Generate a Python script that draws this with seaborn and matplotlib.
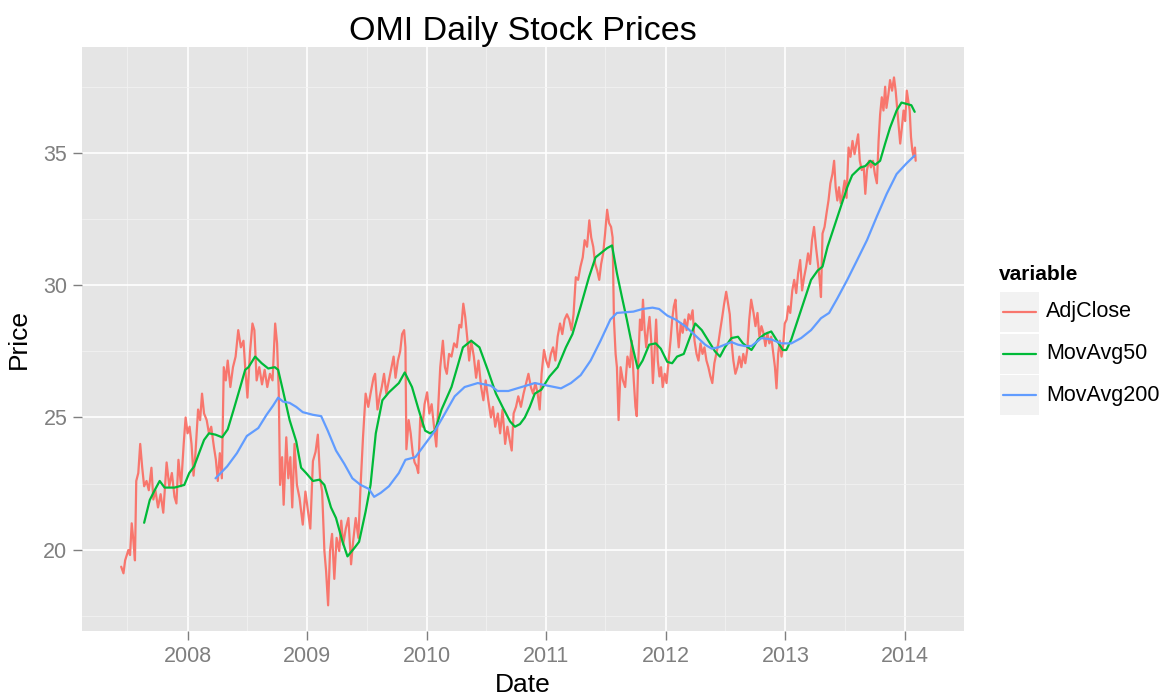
import pandas as pd
import matplotlib
matplotlib.use("Agg")
import matplotlib.pyplot as plt
import seaborn as sns
from matplotlib.patches import Rectangle
from matplotlib.lines import Line2D

# dates are decimal years, prices in $
adj_year = [
    2007.444, 2007.463, 2007.477, 2007.504, 2007.518, 2007.532, 2007.545, 2007.559, 2007.570, 2007.587,
    2007.603, 2007.620, 2007.636, 2007.656, 2007.675, 2007.697, 2007.713, 2007.730, 2007.752, 2007.774,
    2007.796, 2007.824, 2007.846, 2007.868, 2007.890, 2007.906, 2007.923, 2007.945, 2007.967, 2007.983,
    2008.000, 2008.017, 2008.033, 2008.050, 2008.066, 2008.088, 2008.105, 2008.121, 2008.138, 2008.160,
    2008.179, 2008.198, 2008.220, 2008.237, 2008.253, 2008.270, 2008.287, 2008.303, 2008.320, 2008.336,
    2008.358, 2008.380, 2008.402, 2008.424, 2008.446, 2008.468,
    2008.482, 2008.501, 2008.523, 2008.543, 2008.559, 2008.578, 2008.600, 2008.623, 2008.645, 2008.667,
    2008.689, 2008.711, 2008.733, 2008.749, 2008.763, 2008.774, 2008.791, 2008.804, 2008.826, 2008.843,
    2008.860, 2008.876, 2008.895, 2008.915, 2008.937, 2008.964, 2008.986, 2009.006, 2009.025, 2009.047,
    2009.069, 2009.088, 2009.107, 2009.124, 2009.143, 2009.157, 2009.174, 2009.190, 2009.207, 2009.226,
    2009.245, 2009.267, 2009.284, 2009.300, 2009.322, 2009.344, 2009.366, 2009.383, 2009.405, 2009.427,
    2009.446, 2009.466, 2009.488, 2009.510, 2009.529, 2009.554,
    2009.567, 2009.587, 2009.606, 2009.623, 2009.642, 2009.661, 2009.683, 2009.705, 2009.722, 2009.738,
    2009.758, 2009.777, 2009.793, 2009.810, 2009.821, 2009.829, 2009.848, 2009.865, 2009.882, 2009.898,
    2009.915, 2009.928, 2009.945, 2009.964, 2009.981, 2010.003, 2010.022, 2010.041, 2010.061, 2010.080,
    2010.096, 2010.113, 2010.135, 2010.152, 2010.168, 2010.187, 2010.207, 2010.229, 2010.251, 2010.273,
    2010.289, 2010.306, 2010.322, 2010.339, 2010.355, 2010.372, 2010.394, 2010.413, 2010.433, 2010.455,
    2010.474, 2010.493, 2010.515, 2010.537, 2010.554, 2010.573,
    2010.595, 2010.614, 2010.634, 2010.656, 2010.675, 2010.694, 2010.711, 2010.727, 2010.747, 2010.766,
    2010.788, 2010.810, 2010.832, 2010.851, 2010.871, 2010.890, 2010.909, 2010.928, 2010.945, 2010.961,
    2010.981, 2011.000, 2011.019, 2011.039, 2011.058, 2011.077, 2011.096, 2011.116, 2011.135, 2011.154,
    2011.174, 2011.193, 2011.212, 2011.229, 2011.248, 2011.267, 2011.287, 2011.306, 2011.322, 2011.342,
    2011.361, 2011.377, 2011.394, 2011.410, 2011.427, 2011.444, 2011.460, 2011.477, 2011.493, 2011.510,
    2011.526, 2011.543, 2011.556, 2011.567, 2011.581, 2011.592, 2011.606, 2011.623, 2011.642, 2011.661,
    2011.680, 2011.700, 2011.716,
    2011.733, 2011.747, 2011.758, 2011.771, 2011.785, 2011.799, 2011.810, 2011.824, 2011.837, 2011.851,
    2011.865, 2011.879, 2011.893, 2011.906, 2011.920, 2011.934, 2011.948, 2011.961, 2011.975, 2011.992,
    2012.008, 2012.025, 2012.041, 2012.055, 2012.069, 2012.083, 2012.096, 2012.110, 2012.127, 2012.143,
    2012.160, 2012.176, 2012.193, 2012.209, 2012.226, 2012.242, 2012.259, 2012.275, 2012.292, 2012.309,
    2012.325, 2012.342, 2012.358, 2012.375, 2012.391, 2012.408, 2012.424, 2012.441, 2012.457, 2012.474,
    2012.490, 2012.507, 2012.523, 2012.537, 2012.551, 2012.567, 2012.584, 2012.601, 2012.617, 2012.634,
    2012.650, 2012.667, 2012.683, 2012.700, 2012.716,
    2012.736, 2012.752, 2012.769, 2012.785, 2012.802, 2012.818, 2012.835, 2012.851, 2012.868, 2012.884,
    2012.901, 2012.915, 2012.928, 2012.942, 2012.956, 2012.970, 2012.983, 2012.997, 2013.011, 2013.025,
    2013.041, 2013.058, 2013.074, 2013.091, 2013.107, 2013.124, 2013.140, 2013.157, 2013.174, 2013.190,
    2013.207, 2013.223, 2013.240, 2013.256, 2013.273, 2013.287, 2013.298, 2013.311, 2013.328, 2013.344,
    2013.361, 2013.377, 2013.394, 2013.408, 2013.421, 2013.435, 2013.449, 2013.463, 2013.479, 2013.496,
    2013.512, 2013.529, 2013.545, 2013.562, 2013.579, 2013.595, 2013.609, 2013.623, 2013.639, 2013.656,
    2013.669, 2013.683, 2013.700, 2013.716, 2013.733, 2013.749, 2013.766, 2013.780, 2013.793, 2013.807,
    2013.821, 2013.835, 2013.846, 2013.862, 2013.876, 2013.893, 2013.909, 2013.923, 2013.937, 2013.950,
    2013.961, 2013.975, 2013.989, 2014.003, 2014.017, 2014.030, 2014.041, 2014.052, 2014.063, 2014.074,
    2014.085, 2014.091,
]
adj_close = [
    19.36, 19.11, 19.6, 19.99, 19.8, 21.0, 20.4, 19.6, 22.6, 22.9,
    24.0, 23.1, 22.4, 22.6, 22.25, 23.1, 21.9, 22.25, 21.6, 22.1,
    21.4, 23.3, 22.4, 22.9, 22.0, 21.75, 23.4, 22.4, 24.0, 25.0,
    24.4, 24.65, 24.0, 22.8, 23.65, 25.3, 24.9, 25.9, 25.15, 24.9,
    24.4, 24.65, 23.9, 23.4, 22.6, 23.65, 22.7, 26.9, 26.4, 27.15,
    26.15, 26.9, 27.3, 28.3, 27.65, 27.9,
    26.9, 25.75, 27.5, 28.55, 28.3, 26.4, 26.9, 26.25, 26.8, 26.15,
    26.65, 26.4, 28.55, 27.8, 26.0, 22.45, 23.5, 21.7, 24.25, 22.7,
    23.5, 21.6, 24.0, 22.45, 21.95, 20.95, 22.2, 21.45, 20.8, 23.35,
    23.7, 24.35, 22.7, 22.2, 19.95, 19.2, 17.9, 19.95, 20.6, 18.9,
    20.45, 19.95, 21.1, 20.2, 20.8, 21.2, 19.45, 20.3, 21.2, 20.45,
    22.45, 24.25, 25.9, 25.4, 25.9, 26.5,
    26.65, 25.3, 25.8, 26.15, 26.65, 25.9, 26.4, 26.9, 27.3, 26.5,
    27.15, 27.5, 28.15, 28.3, 27.65, 23.8, 24.9, 24.4, 23.65, 23.3,
    23.15, 22.9, 25.0, 24.65, 25.5, 25.95, 25.15, 25.5, 24.65, 23.9,
    25.4, 26.9, 27.9, 26.9, 26.65, 27.4, 27.3, 27.8, 27.65, 28.5,
    28.4, 29.3, 28.8, 28.0, 27.15, 27.9, 27.3, 26.5, 27.15, 26.15,
    25.65, 26.4, 25.65, 25.0, 25.4, 24.65,
    25.15, 24.4, 25.3, 24.0, 24.65, 24.15, 23.75, 25.15, 25.4, 25.8,
    25.4, 25.9, 26.3, 26.65, 26.15, 25.9, 26.3, 25.9, 25.3, 26.65,
    27.55, 27.15, 26.9, 27.4, 27.65, 27.15, 28.05, 28.55, 28.15, 28.7,
    28.9, 28.7, 28.3, 28.9, 30.3, 30.2, 30.7, 31.05, 31.7, 31.45,
    32.45, 31.8, 31.45, 30.8, 30.55, 30.2, 30.8, 31.2, 31.95, 32.85,
    32.35, 32.2, 31.8, 28.7, 27.4, 26.9, 24.9, 26.9, 26.4, 26.15,
    27.3, 26.9, 27.9,
    26.4, 25.4, 25.05, 27.15, 28.7, 28.3, 29.45, 28.3, 27.65, 28.3,
    28.8, 27.9, 26.3, 27.4, 28.7, 27.15, 26.55, 26.9, 26.15, 26.65,
    26.3, 27.15, 27.9, 28.7, 29.2, 29.45, 28.4, 27.65, 28.55, 28.2,
    28.7, 28.3, 28.9, 28.7, 29.05, 27.9, 27.4, 27.15, 27.8, 27.4,
    27.65, 27.15, 26.9, 26.55, 26.3, 27.05, 27.4, 27.8, 28.3, 28.8,
    29.3, 29.75, 29.3, 28.9, 27.9, 27.15, 26.65, 26.9, 27.3, 26.9,
    27.4, 27.05, 27.55, 28.7, 29.45,
    28.95, 28.45, 28.95, 28.05, 28.45, 28.2, 27.7, 28.2, 27.8, 28.05,
    27.4, 26.9, 26.1, 27.4, 27.9, 27.3, 27.7, 28.55, 28.7, 29.2,
    28.95, 29.8, 30.2, 29.7, 30.45, 30.95, 29.8, 30.3, 30.7, 31.2,
    30.8, 31.7, 32.2, 31.45, 30.8, 30.2, 29.55, 31.95, 32.2, 32.7,
    33.2, 33.85, 34.2, 34.7, 33.7, 33.2, 33.7, 33.1, 33.45, 33.95,
    33.3, 35.2, 34.85, 35.45, 34.95, 35.35, 35.7, 34.7, 34.35, 34.45,
    33.45, 34.35, 34.7, 34.45, 34.7, 34.2, 33.85, 35.45, 36.45, 37.1,
    36.6, 37.5, 36.7, 37.2, 37.75, 37.35, 37.85, 37.35, 36.6, 35.95,
    35.35, 35.95, 36.6, 36.2, 37.35, 36.95, 36.6, 35.6, 35.1, 34.85,
    35.2, 34.7,
]

ma50_year = [
    2007.636, 2007.683, 2007.724, 2007.766, 2007.807, 2007.890, 2007.972, 2008.014, 2008.055, 2008.096,
    2008.138, 2008.179, 2008.234, 2008.289, 2008.336, 2008.386, 2008.441, 2008.482, 2008.510, 2008.565,
    2008.620, 2008.675, 2008.730, 2008.758, 2008.799, 2008.854, 2008.909, 2008.950, 2008.992, 2009.047,
    2009.102, 2009.143, 2009.198, 2009.240, 2009.295, 2009.336, 2009.391, 2009.433, 2009.488, 2009.529,
    2009.573, 2009.628, 2009.683, 2009.766, 2009.815, 2009.876, 2009.931, 2009.986, 2010.028, 2010.069,
    2010.124, 2010.207, 2010.262, 2010.303, 2010.372, 2010.441, 2010.510, 2010.579, 2010.634, 2010.697,
    2010.738, 2010.780, 2010.821, 2010.862, 2010.904, 2010.959, 2011.028, 2011.096, 2011.165, 2011.220,
    2011.289, 2011.358, 2011.413, 2011.468, 2011.510, 2011.551, 2011.592, 2011.634, 2011.675, 2011.711,
    2011.766, 2011.807, 2011.862, 2011.917, 2011.959, 2012.014, 2012.055, 2012.096, 2012.152, 2012.193,
    2012.248, 2012.303, 2012.358, 2012.413, 2012.455, 2012.496, 2012.551, 2012.606, 2012.647, 2012.689,
    2012.719, 2012.774, 2012.829, 2012.884, 2012.926, 2012.981, 2013.008, 2013.050, 2013.105, 2013.160,
    2013.215, 2013.270, 2013.311, 2013.353, 2013.408, 2013.463, 2013.518, 2013.559, 2013.628, 2013.669,
    2013.711, 2013.752, 2013.793, 2013.835, 2013.876, 2013.931, 2013.972, 2014.014, 2014.055, 2014.083,
]
ma50 = [
    21.02, 21.88, 22.25, 22.6, 22.35, 22.35, 22.45, 22.9, 23.15, 23.65,
    24.15, 24.4, 24.35, 24.25, 24.55, 25.3, 26.15, 26.8, 26.9, 27.3,
    27.05, 26.85, 26.9, 26.8, 26.0, 24.9, 24.1, 23.1, 22.9, 22.6,
    22.65, 22.45, 21.6, 21.2, 20.3, 19.75, 20.05, 20.3, 21.45, 22.45,
    24.4, 25.65, 25.95, 26.3, 26.7, 26.15, 25.3, 24.5, 24.4, 24.5,
    25.3, 26.15, 27.0, 27.65, 27.9, 27.65, 26.8, 25.9, 25.4, 24.85,
    24.65, 24.75, 25.0, 25.4, 25.9, 26.05, 26.55, 26.9, 27.65, 28.15,
    29.2, 30.3, 31.05, 31.25, 31.4, 31.5, 30.45, 29.55, 28.7, 27.9,
    26.85, 27.15, 27.75, 27.8, 27.6, 27.1, 27.05, 27.3, 27.4, 27.9,
    28.55, 28.3, 27.9, 27.5, 27.3, 27.65, 28.0, 28.05, 27.8, 27.65,
    27.55, 27.95, 28.15, 28.25, 27.95, 27.55, 27.55, 27.95, 28.7, 29.45,
    30.2, 30.55, 30.7, 31.45, 32.2, 32.95, 33.7, 34.15, 34.45, 34.5,
    34.7, 34.55, 34.7, 35.35, 35.95, 36.6, 36.9, 36.85, 36.8, 36.55,
]

ma200_year = [
    2008.234, 2008.331, 2008.413, 2008.496, 2008.592, 2008.661, 2008.716, 2008.758, 2008.799, 2008.854,
    2008.909, 2008.964, 2009.047, 2009.116, 2009.171, 2009.240, 2009.309, 2009.377, 2009.446, 2009.515,
    2009.559, 2009.614, 2009.683, 2009.766, 2009.821, 2009.904, 2009.986, 2010.069, 2010.152, 2010.234,
    2010.317, 2010.427, 2010.537, 2010.592, 2010.683, 2010.793, 2010.904, 2011.014, 2011.124, 2011.207,
    2011.289, 2011.372, 2011.455, 2011.537, 2011.592, 2011.730, 2011.807, 2011.890, 2011.945, 2012.014,
    2012.083, 2012.165, 2012.248, 2012.331, 2012.386, 2012.441, 2012.496, 2012.551, 2012.606, 2012.661,
    2012.719, 2012.802, 2012.884, 2012.967, 2013.050, 2013.132, 2013.215, 2013.298, 2013.366, 2013.435,
    2013.518, 2013.601, 2013.683, 2013.766, 2013.848, 2013.931, 2014.014, 2014.083,
]
ma200 = [
    22.7, 23.15, 23.65, 24.3, 24.6, 25.1, 25.45, 25.75, 25.6, 25.55,
    25.4, 25.2, 25.1, 25.05, 24.5, 23.75, 23.25, 22.7, 22.45, 22.3,
    22.0, 22.15, 22.4, 22.9, 23.4, 23.5, 24.0, 24.5, 25.15, 25.8,
    26.15, 26.3, 26.2, 26.0, 26.0, 26.15, 26.3, 26.2, 26.1, 26.3,
    26.6, 27.15, 27.9, 28.7, 28.95, 29.0, 29.1, 29.15, 29.1, 28.85,
    28.7, 28.45, 28.1, 27.75, 27.6, 27.65, 27.75, 27.85, 27.75, 27.7,
    27.7, 28.0, 27.95, 27.8, 27.8, 28.0, 28.3, 28.75, 28.95, 29.5,
    30.2, 30.95, 31.7, 32.6, 33.45, 34.2, 34.6, 34.9,
]

variables = ["AdjClose", "MovAvg50", "MovAvg200"]
colors = ["#F8766D", "#00BA38", "#619CFF"]
year_ticks = [2008, 2009, 2010, 2011, 2012, 2013, 2014]
price_ticks = [20, 25, 30, 35]
price_minor = [17.5, 22.5, 27.5, 32.5, 37.5]


def to_dates(years):
    out = []
    for v in years:
        y = int(v)
        out.append(pd.Timestamp(year=y, month=1, day=1) + pd.Timedelta(days=(v - y) * 365.25))
    return out


df = pd.concat([
    pd.DataFrame({"Date": to_dates(adj_year), "value": adj_close, "variable": "AdjClose"}),
    pd.DataFrame({"Date": to_dates(ma50_year), "value": ma50, "variable": "MovAvg50"}),
    pd.DataFrame({"Date": to_dates(ma200_year), "value": ma200, "variable": "MovAvg200"}),
], ignore_index=True)

sns.set_theme(style="darkgrid")
plt.rcParams["font.family"] = ["Liberation Sans", "DejaVu Sans"]
plt.rcParams["text.color"] = "black"
plt.rcParams["axes.labelcolor"] = "black"

W, H = 1167, 696
fig = plt.figure(figsize=(W / 100, H / 100), dpi=100)
fig.patch.set_facecolor("white")
ax = fig.add_axes([82 / W, 1 - 631 / H, (964 - 82) / W, (631 - 47) / H])
ax.set_facecolor("#E5E5E5")

sns.lineplot(data=df, x="Date", y="value", hue="variable", hue_order=variables,
             palette=dict(zip(variables, colors)), estimator=None, sort=False,
             linewidth=1.6, legend=False, ax=ax)

ax.set_xlim(to_dates([2007.116, 2014.407]))
ax.set_ylim(16.93, 39.0)
ax.set_xticks([pd.Timestamp(year=y, month=1, day=1) for y in year_ticks])
ax.set_xticklabels([str(y) for y in year_ticks])
ax.set_xticks([pd.Timestamp(year=y, month=7, day=1) for y in range(2007, 2015)], minor=True)
ax.set_yticks(price_ticks)
ax.set_yticks(price_minor, minor=True)

ax.grid(which="major", color="white", linewidth=1.2)
ax.grid(which="minor", color="#F2F2F2", linewidth=0.6)
ax.set_axisbelow(True)
for s in ax.spines.values():
    s.set_visible(False)
ax.tick_params(which="minor", length=0)
ax.tick_params(which="major", length=6.5, width=1, color="#7F7F7F",
               labelcolor="#7F7F7F", labelsize=15.5, pad=4, bottom=True, left=True)

ax.set_title("OMI Daily Stock Prices", fontsize=24.5, pad=5, color="black")
ax.set_xlabel("Date", fontsize=19, labelpad=4.5, color="black")
ax.set_ylabel("Price", fontsize=19, labelpad=9, color="black")

# legend drawn like ggplot's key boxes
fig.text(999 / W, 1 - 274 / H, "variable", fontsize=15, fontweight="bold", va="center", ha="left",
         color="black")
for i, (name, col) in enumerate(zip(variables, colors)):
    top = 292 + i * 41.5
    fig.add_artist(Rectangle((1000 / W, 1 - (top + 40) / H), 39 / W, 40 / H,
                             transform=fig.transFigure, facecolor="#F2F2F2", edgecolor="none"))
    yc = 1 - (top + 20) / H
    fig.add_artist(Line2D([1003 / W, 1036 / W], [yc, yc], transform=fig.transFigure,
                          color=col, linewidth=1.6))
    fig.text(1046 / W, yc, name, fontsize=15.5, va="center", ha="left", color="black")

fig.savefig("out.png", dpi=100)
